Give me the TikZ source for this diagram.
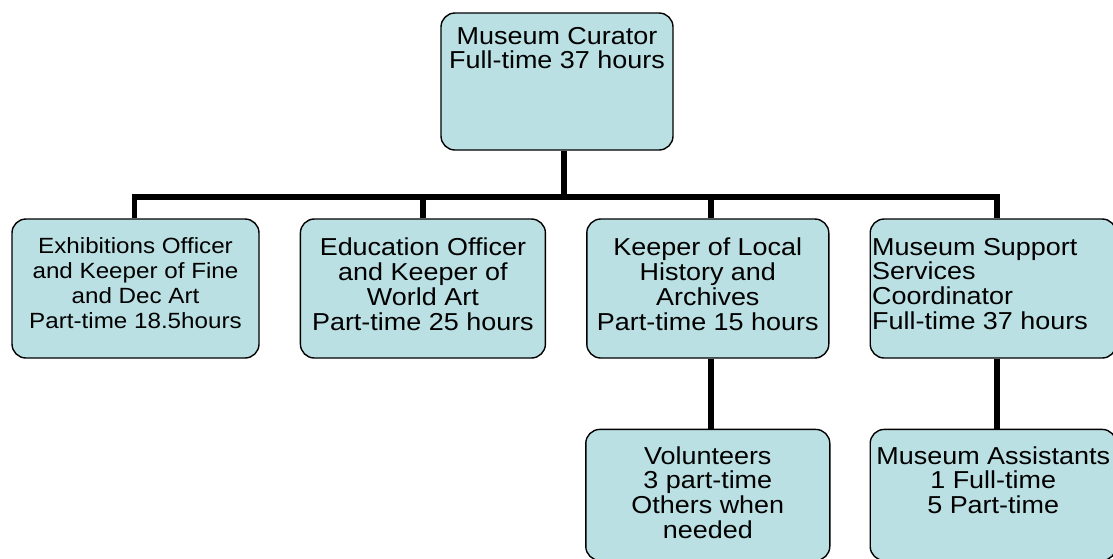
\documentclass[tikz,border=0pt]{standalone}
\usepackage{fontspec}
\setmainfont{Liberation Sans}[FakeStretch=1.1]
\usetikzlibrary{positioning}
\definecolor{boxteal}{HTML}{BAE0E3}
\newcommand{\postfont}{\fontsize{24.5}{24.8}\selectfont}
\newcommand{\smallpostfont}{\fontsize{22}{24.8}\selectfont}
% box text: height, width, alignment, lines
\newcommand{\posttext}[4]{\parbox[c][#1][t]{#2}{#3#4}}
\tikzset{
  postbox/.style  = {draw=black, line width=1.4pt, fill=boxteal,
                     rounded corners=14pt, inner sep=0pt, font=\postfont},
  linkline/.style = {draw=black, line width=5.5pt},
}

\begin{document}
\begin{tikzpicture}[x=1pt, y=-1pt]
  \useasboundingbox (0,0) rectangle (1113,558);
  \clip (0,0) rectangle (1113,558);
  % top post
  \node[postbox, minimum width=232pt, minimum height=137pt] (cur) at (557,81.5)
    {\posttext{109pt}{226pt}{\centering}{Museum Curator\\Full-time 37 hours}};
  % second row
  \node[postbox, minimum width=247pt, minimum height=139pt, font=\smallpostfont]
    (exh) at (135.5,288.5)
    {\posttext{101pt}{243pt}{\centering}{Exhibitions Officer\\and Keeper of Fine\\
      and Dec Art\\Part-time 18.5hours}};
  \node[postbox, minimum width=245pt, minimum height=139pt, right=40pt of exh] (edu)
    {\posttext{101pt}{241pt}{\centering}{Education Officer\\and Keeper of\\
      World Art\\Part-time 25 hours}};
  \node[postbox, minimum width=242pt, minimum height=139pt, right=40pt of edu] (kee)
    {\posttext{101pt}{238pt}{\centering}{Keeper of Local\\History and\\
      Archives\\Part-time 15 hours}};
  \node[postbox, minimum width=246pt, minimum height=139pt, right=40pt of kee] (sup)
    {\posttext{101pt}{242pt}{\raggedright}{Museum Support\\Services\\
      Coordinator\\Full-time 37 hours}};
  % third row
  \node[postbox, minimum width=244pt, minimum height=131pt, below=70pt of kee] (vol)
    {\posttext{97pt}{240pt}{\centering}{Volunteers\\3 part-time\\Others when\\needed}};
  \node[postbox, minimum width=246pt, minimum height=131pt, below=70pt of sup] (asst)
    {\posttext{97pt}{244pt}{\centering}{Museum Assistants\\1 Full-time\\5 Part-time}};
  % connectors
  \draw[linkline] ([xshift=7pt]cur.south) -- ++(0,46.5) coordinate (bar);
  \draw[linkline] ([xshift=-1pt]exh.north) -- ([xshift=-1pt]exh.north |- bar)
    -- ([xshift=4pt]sup.north |- bar) -- ([xshift=4pt]sup.north);
  \draw[linkline] (edu.north) -- (edu.north |- bar);
  \draw[linkline] ([xshift=3pt]kee.north) -- ([xshift=3pt]kee.north |- bar);
  \draw[linkline] ([xshift=3pt]kee.south) -- ([xshift=3pt]vol.north);
  \draw[linkline] ([xshift=4pt]sup.south) -- ([xshift=4pt]asst.north);
\end{tikzpicture}
\end{document}
